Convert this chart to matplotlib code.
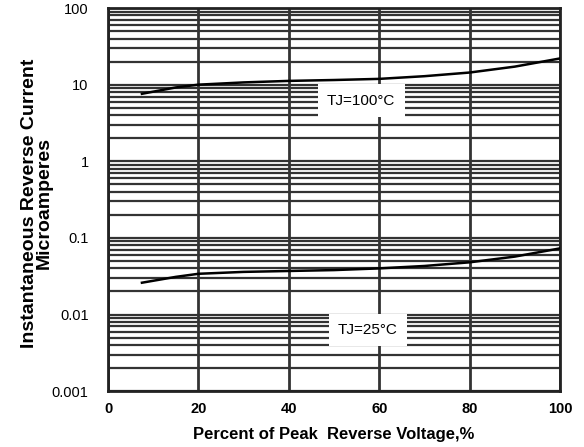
import numpy as np
import matplotlib
matplotlib.use('Agg')
import matplotlib.pyplot as plt
from matplotlib.ticker import FixedLocator, NullFormatter

plt.rcParams['font.family'] = ['Liberation Sans', 'DejaVu Sans']

# curve readings, percent of peak reverse voltage vs current (uA)
pct = [7.5, 15, 20, 30, 40, 50, 60, 70, 80, 90, 100]
i_100c = [7.6, 9.2, 10.0, 10.7, 11.2, 11.5, 11.9, 12.9, 14.4, 17.2, 22.0]
i_25c = [0.026, 0.031, 0.034, 0.036, 0.037, 0.038, 0.040, 0.043, 0.048, 0.057, 0.073]

xticks = [0, 20, 40, 60, 80, 100]
yticks = [0.001, 0.01, 0.1, 1, 10, 100]
ylabels = ['0.001', '0.01', '0.1', '1', '10', '100']

fig = plt.figure(figsize=(5.84, 4.47), dpi=100)
ax = fig.add_axes([0.185, 0.125, 0.774, 0.857])
ax.set_yscale('log')
ax.set_xlim(0, 100)
ax.set_ylim(0.001, 100)

minors = [m * 10.0 ** e for e in range(-3, 2) for m in range(2, 10)]
ax.yaxis.set_major_locator(FixedLocator(yticks))
ax.yaxis.set_minor_locator(FixedLocator(minors))
ax.yaxis.set_minor_formatter(NullFormatter())
ax.set_yticklabels(ylabels)
ax.set_xticks(xticks)
ax.set_xticklabels(xticks)

ax.grid(True, which='both', axis='y', color='#333333', lw=1.6)
ax.grid(True, which='major', axis='x', color='#333333', lw=2.0)
ax.tick_params(which='both', length=0, labelsize=10.5)
ax.tick_params(axis='x', pad=8)
ax.tick_params(axis='y', pad=14)
for lbl in ax.get_xticklabels():
    lbl.set_fontweight('bold')
for s in ax.spines.values():
    s.set_linewidth(2.0)
    s.set_color('#222222')

ax.plot(pct, i_100c, color='black', lw=1.8, zorder=3)
ax.plot(pct, i_25c, color='black', lw=1.8, zorder=3)

box = dict(boxstyle='square,pad=0.6', fc='white', ec='none')
ax.text(56, 6.2, 'TJ=100°C', ha='center', va='center', fontsize=11,
        bbox=box, zorder=4)
ax.text(57.5, 0.0063, 'TJ=25°C', ha='center', va='center', fontsize=11,
        bbox=box, zorder=4)

ax.set_xlabel('Percent of Peak  Reverse Voltage,%', fontsize=12,
              fontweight='bold', labelpad=8)
ax.set_ylabel('Instantaneous Reverse Current\nMicroamperes', fontsize=14,
              fontweight='bold', linespacing=0.85)
ax.yaxis.set_label_coords(-0.122, 0.49)

fig.savefig('out.png', dpi=100)
